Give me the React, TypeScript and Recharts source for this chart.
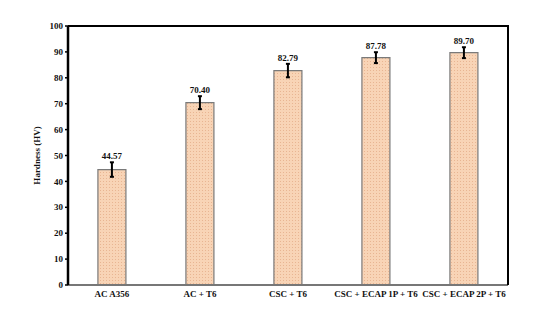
import React from 'react';
import { BarChart, Bar, XAxis, YAxis, ErrorBar, LabelList, ReferenceLine } from 'recharts';

const categories = ['AC A356', 'AC + T6', 'CSC + T6', 'CSC + ECAP 1P + T6', 'CSC + ECAP 2P + T6'];
const hardness = [44.57, 70.4, 82.79, 87.78, 89.7];
const errors = [2.8, 2.5, 2.6, 2.1, 2.1];
const yTicks = [0, 10, 20, 30, 40, 50, 60, 70, 80, 90, 100];

const data = categories.map((name, i) => ({ name, value: hardness[i], err: errors[i] }));

const font = '"Liberation Serif", "Times New Roman", serif';
const textStyle = { fill: '#111', fontSize: 9, fontWeight: 'bold', fontFamily: font };

const W = 545;
const H = 320;
const M = { top: 26, right: 37, left: 0, bottom: 0 };
const Y_AXIS_W = 68;
const X_AXIS_H = 35;

// value label placed just above the top of the error bar
function ValueLabel(props: any) {
  const { x, y, width, height, index, value } = props;
  const pxPerUnit = height / hardness[index];
  const top = y - errors[index] * pxPerUnit;
  return (
    <text x={x + width / 2} y={top - 3} textAnchor="middle" style={textStyle}>
      {Number(value).toFixed(2)}
    </text>
  );
}

export default function App() {
  const plotLeft = M.left + Y_AXIS_W;
  const plotRight = W - M.right;
  const plotBottom = H - M.bottom - X_AXIS_H;
  return (
    <div style={{ position: 'relative', margin: -8, width: W, height: H, background: '#fff' }}>
      <BarChart width={W} height={H} data={data} margin={M} barCategoryGap="34%">
        <defs>
          <pattern id="dots" width="3" height="3" patternUnits="userSpaceOnUse">
            <rect width="3" height="3" fill="#f8d4b6" />
            <rect x="1" y="1" width="1" height="1" fill="#e8b592" />
          </pattern>
        </defs>
        <XAxis
          dataKey="name"
          height={X_AXIS_H}
          interval={0}
          axisLine={{ stroke: '#777', strokeWidth: 2 }}
          tickLine={false}
          tick={textStyle}
          tickMargin={0}
        />
        <YAxis
          domain={[0, 100]}
          ticks={yTicks}
          width={Y_AXIS_W}
          interval={0}
          axisLine={{ stroke: '#000', strokeWidth: 2.5 }}
          tickLine={{ stroke: '#000', strokeWidth: 1.5 }}
          tickSize={3}
          tick={textStyle}
          label={{
            value: 'Hardness (HV)',
            angle: -90,
            position: 'insideLeft',
            offset: 37,
            style: { ...textStyle, textAnchor: 'middle' },
          }}
        />
        <ReferenceLine y={100} stroke="#000" strokeWidth={2} ifOverflow="visible" />
        <Bar dataKey="value" fill="url(#dots)" stroke="#7a7a7a" strokeWidth={1.2} isAnimationActive={false}>
          <ErrorBar dataKey="err" width={2} stroke="#000" strokeWidth={2} />
          <LabelList dataKey="value" content={<ValueLabel />} />
        </Bar>
      </BarChart>
      {/* frame top + right */}
      <div
        style={{
          position: 'absolute',
          left: plotLeft,
          top: M.top - 1,
          width: plotRight - plotLeft + 1,
          height: plotBottom - M.top + 1,
          borderTop: '2px solid #000',
          borderRight: '2px solid #000',
          boxSizing: 'border-box',
          pointerEvents: 'none',
        }}
      />
    </div>
  );
}
